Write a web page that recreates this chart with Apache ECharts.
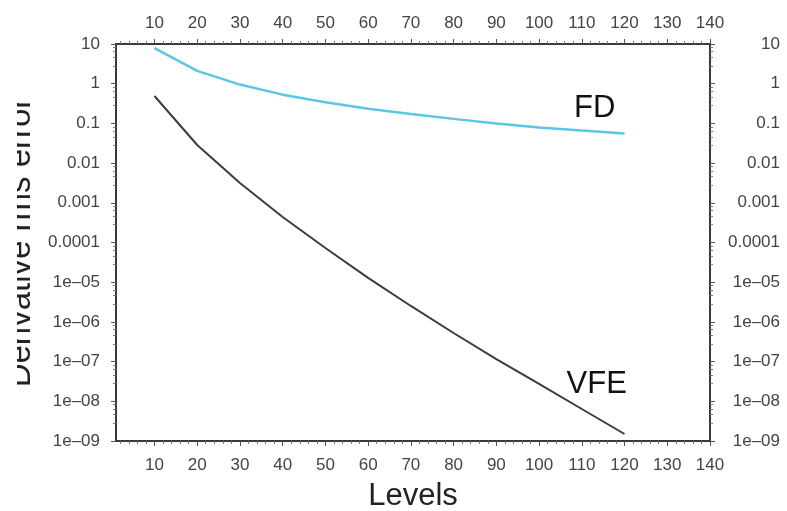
<!DOCTYPE html>
<html>
<head>
<meta charset="utf-8">
<script src="https://cdn.jsdelivr.net/npm/echarts@6/dist/echarts.min.js"></script>
<style>html,body{margin:0;padding:0;background:#fff}#c{width:787px;height:511px}</style>
</head>
<body>
<div id="c"></div>
<script>
// ---- data ----
const levels = [10, 20, 30, 40, 50, 60, 70, 80, 90, 100, 110, 120];
const fdError = [7.9, 2.1, 0.95, 0.53, 0.34, 0.235, 0.172, 0.13, 0.1, 0.079, 0.066, 0.056];
const vfeError = [0.49, 0.0286, 0.00315, 0.000439, 7.26e-5, 1.28e-5, 2.52e-6, 5.25e-7, 1.16e-7, 2.73e-8, 6.4e-9, 1.5e-9];
const xTicks = [10, 20, 30, 40, 50, 60, 70, 80, 90, 100, 110, 120, 130, 140];
const yTickLabels = {1: '10', 0: '1', '-1': '0.1', '-2': '0.01', '-3': '0.001', '-4': '0.0001',
  '-5': '1e\u201305', '-6': '1e\u201306', '-7': '1e\u201307', '-8': '1e\u201308', '-9': '1e\u201309'};
const xMinorTicks = [];
for (let v = 2; v <= 140; v += 2) if (v % 10 !== 0) xMinorTicks.push(v);

const FONT = 'Liberation Sans, Arial, Helvetica, sans-serif';
const axisColor = '#3a3a3a';
const labelColor = '#444';

const chart = echarts.init(document.getElementById('c'), null, {renderer: 'canvas'});

function xMain(pos, margin) {
  return {
    type: 'value', position: pos, min: 1, max: 140,
    axisLine: {show: true, onZero: false, lineStyle: {color: axisColor, width: 2}},
    axisTick: {show: true, inside: false, length: 5, customValues: xTicks, lineStyle: {color: '#555', width: 1}},
    axisLabel: {show: true, customValues: xTicks, margin: margin, fontSize: 17, color: labelColor, fontFamily: FONT},
    splitLine: {show: false}
  };
}
function xMinor(pos) {
  return {
    type: 'value', position: pos, min: 1, max: 140,
    axisLine: {show: false, onZero: false},
    axisTick: {show: true, inside: false, length: 3, customValues: xMinorTicks, lineStyle: {color: '#777', width: 1}},
    axisLabel: {show: false},
    splitLine: {show: false}
  };
}
function yAxisDef(pos, align, margin) {
  return {
    type: 'log', logBase: 10, position: pos, min: 1e-9, max: 10, splitNumber: 10,
    axisLine: {show: true, onZero: false, lineStyle: {color: axisColor, width: 2}},
    axisTick: {show: true, inside: false, length: 5, lineStyle: {color: '#555', width: 1}},
    minorTick: {show: true, splitNumber: 5, length: 3, lineStyle: {color: '#777', width: 1}},
    axisLabel: {
      show: true, margin: margin, align: align, fontSize: 17, color: labelColor, fontFamily: FONT,
      formatter: v => yTickLabels[Math.round(Math.log10(v))] || ''
    },
    splitLine: {show: false}
  };
}

const yLeft = yAxisDef('left', 'right', 16);
yLeft.name = 'Derivative rms error';
yLeft.nameLocation = 'middle';
yLeft.nameRotate = 90;
yLeft.nameGap = 78;
yLeft.nameTextStyle = {fontSize: 33, color: '#222', fontFamily: FONT};

const xBottom = xMain('bottom', 16);
xBottom.name = 'Levels';
xBottom.nameLocation = 'middle';
xBottom.nameGap = 40;
xBottom.nameTextStyle = {fontSize: 31, color: '#222', fontFamily: FONT};

const labelMark = (text, coord) => ({
  symbol: 'circle', symbolSize: 1,
  itemStyle: {color: 'rgba(0,0,0,0)'},
  label: {show: true, position: 'inside', formatter: text, fontSize: 31, color: '#111', fontFamily: FONT},
  data: [{coord: coord}]
});

chart.setOption({
  animation: false,
  backgroundColor: '#fff',
  grid: {left: 116, right: 77, top: 44, bottom: 70, containLabel: false, outerBoundsMode: 'none'},
  xAxis: [xBottom, xMain('top', 12), xMinor('bottom'), xMinor('top')],
  yAxis: [yLeft, yAxisDef('right', 'right', 70)],
  graphic: [{
    type: 'rect', left: 0, top: 0, z: 100,
    shape: {width: 17, height: 511}, style: {fill: '#fff'}
  }],
  series: [
    {
      name: 'FD', type: 'line', xAxisIndex: 0, yAxisIndex: 0,
      data: levels.map((l, i) => [l, fdError[i]]),
      symbol: 'none', smooth: false,
      lineStyle: {color: '#5cc6e6', width: 2.5},
      markPoint: labelMark('FD', [113, 0.244])
    },
    {
      name: 'VFE', type: 'line', xAxisIndex: 0, yAxisIndex: 0,
      data: levels.map((l, i) => [l, vfeError[i]]),
      symbol: 'none', smooth: false,
      lineStyle: {color: '#3c3c3c', width: 2},
      markPoint: labelMark('VFE', [113.5, 2.6e-8])
    }
  ]
});
</script>
</body>
</html>
